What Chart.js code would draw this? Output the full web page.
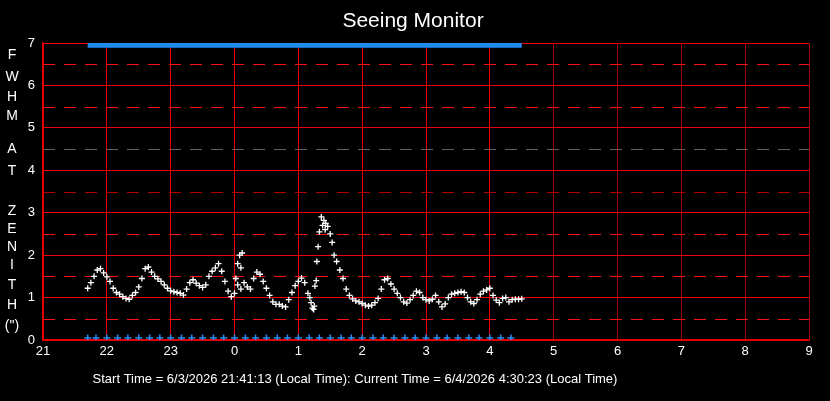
<!DOCTYPE html><html><head><script src="https://cdn.jsdelivr.net/npm/chart.js@4"></script>
<style>body{margin:0;background:#000}#w{width:830px;height:401px}</style></head><body><div id="w"><canvas id="c"></canvas></div>
<script>
const xTickLabels=['21','22','23','0','1','2','3','4','5','6','7','8','9'];
// hours since 21:00
const seeT=[0.70,0.75,0.80,0.85,0.90,0.95,1.00,1.05,1.10,1.15,1.20,1.25,1.30,1.35,1.40,1.45,1.50,1.55,1.60,1.65,1.70,1.75,1.80,1.85,1.90,1.95,2.00,2.05,2.10,2.15,2.20,2.25,2.30,2.35,2.40,2.45,2.50,2.55,2.60,2.65,2.70,2.75,2.80,2.85,2.90,2.95,3.00,3.05,3.10,3.15,3.20,3.25,3.30,3.35,3.40,3.45,3.50,3.55,3.60,3.65,3.70,3.75,3.80,3.85,3.90,3.95,4.00,4.05,4.10,4.15,4.20,4.25,4.26,4.29,4.31,4.33,4.36,4.40,4.43,4.46,4.50,4.53,4.56,4.60,4.65,4.70,4.75,4.80,4.85,4.90,4.95,5.00,5.05,5.10,5.15,5.20,5.25,5.30,5.35,5.40,5.45,5.50,5.55,5.60,5.65,5.70,5.75,5.80,5.85,5.90,5.95,6.00,6.05,6.10,6.15,6.20,6.25,6.30,6.35,6.40,6.45,6.50,6.55,6.60,6.65,6.70,6.75,6.80,6.85,6.90,6.95,7.00,7.05,7.10,7.15,7.20,7.25,7.30,7.35,7.40,7.45,7.50,3.05,3.08,3.12,3.10,3.02,4.28,4.22,4.38,4.42,4.18,4.24];
const seeV=[1.22,1.35,1.5,1.65,1.68,1.58,1.49,1.38,1.22,1.12,1.08,1.02,0.98,0.96,1.05,1.12,1.25,1.45,1.68,1.72,1.6,1.5,1.44,1.38,1.3,1.22,1.16,1.14,1.12,1.1,1.06,1.2,1.35,1.42,1.34,1.28,1.24,1.3,1.5,1.62,1.7,1.8,1.62,1.38,1.15,1.02,1.1,1.3,1.2,1.35,1.25,1.2,1.45,1.6,1.55,1.38,1.22,1.05,0.9,0.84,0.84,0.8,0.78,0.95,1.12,1.28,1.38,1.46,1.35,1.1,0.88,0.8,1.27,1.85,2.2,2.55,2.9,2.82,2.75,2.68,2.5,2.3,2.0,1.85,1.65,1.45,1.2,1.05,0.97,0.92,0.9,0.86,0.82,0.8,0.82,0.88,0.98,1.2,1.42,1.45,1.32,1.2,1.1,1.0,0.9,0.87,0.95,1.05,1.15,1.12,1.0,0.95,0.92,0.96,1.05,0.9,0.78,0.85,1.0,1.08,1.1,1.12,1.14,1.12,1.0,0.9,0.86,0.95,1.08,1.15,1.18,1.22,1.05,0.94,0.88,0.98,1.0,0.9,0.95,0.96,0.96,0.97,1.8,2.0,2.05,1.7,1.45,1.4,0.75,2.7,2.6,1.0,0.72];
const topT=[0.70,7.50];const topV=[6.96,6.96];
const botT=[0.70,0.83,1.0,1.17,1.33,1.5,1.67,1.83,2.0,2.17,2.33,2.5,2.67,2.83,3.0,3.17,3.33,3.5,3.67,3.83,4.0,4.17,4.33,4.5,4.67,4.83,5.0,5.17,5.33,5.5,5.67,5.83,6.0,6.17,6.33,6.5,6.67,6.83,7.0,7.17,7.33];
const yLabel=['F','W','H','M','A','T','Z','E','N','I','T','H','(")'];
const yLabelPos=[55,77,97,116,149,171,211,229,247,265,285,305,326];
const pts=(a,b)=>a.map((t,i)=>({x:t,y:b[i]}));
const F='"Liberation Sans", Arial, sans-serif';
const deco={id:'deco',beforeDatasetsDraw(ch){const c=ch.ctx,x=ch.scales.x,y=ch.scales.y;c.save();c.lineWidth=1;c.setLineDash([12,9]);
[0.5,1.5,2.5,3.5,4.5,5.5,6.5].forEach(v=>{c.strokeStyle=v==3.5?'#b00000':(v==4.5?'#606060':'#ff1010');const p=Math.round(y.getPixelForValue(v))+0.5;c.beginPath();c.moveTo(x.left,p);c.lineTo(x.right,p);c.stroke();});
c.restore();},
afterDraw(ch){const c=ch.ctx;c.save();c.fillStyle='#fff';c.textAlign='center';c.textBaseline='middle';c.font='21px '+F;c.fillText('Seeing Monitor',413,21);
c.font='13px '+F;c.fillText('Start Time = 6/3/2026 21:41:13 (Local Time): Current Time = 6/4/2026 4:30:23 (Local Time)',355,379);
c.font='14px '+F;yLabel.forEach((s,i)=>c.fillText(s,12,yLabelPos[i]));c.restore();}};
new Chart(document.getElementById('c'),{type:'scatter',plugins:[deco],
data:{datasets:[
{data:pts(seeT,seeV),pointStyle:'cross',radius:3,borderColor:'#fff',borderWidth:1.3},
{data:pts(topT,topV),showLine:true,borderColor:'#1e8cf0',borderWidth:6,pointRadius:0},
{data:botT.map(t=>({x:t,y:0.05})),pointStyle:'cross',radius:3.5,borderColor:'#2a8cf5',borderWidth:1.5}]},
options:{responsive:true,maintainAspectRatio:false,animation:false,devicePixelRatio:1,
layout:{padding:{top:43,right:21,bottom:41,left:0}},
plugins:{legend:{display:false},tooltip:{enabled:false}},
scales:{x:{min:0,max:12,afterFit(s){s.height=20;},grid:{color:c=>c.tick&&c.tick.value>=8?'#a00000':'#f00000',lineWidth:1,drawTicks:false},border:{color:'#e00000',width:1.5},
ticks:{stepSize:1,color:'#fff',font:{family:F,size:13},padding:4,callback:v=>xTickLabels[v]}},
y:{min:0,max:7,afterFit(s){s.width=43;},grid:{color:'#f00000',lineWidth:1,drawTicks:false},border:{color:'#e00000',width:1.5},
ticks:{stepSize:1,color:'#fff',font:{family:F,size:13},padding:8}}}}});
</script></body></html>
